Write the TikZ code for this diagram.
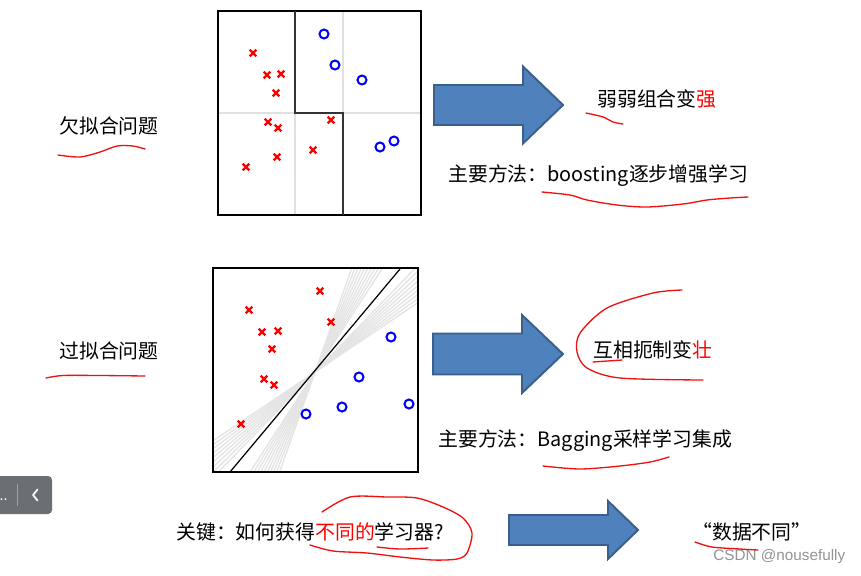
\documentclass[tikz,border=0pt]{standalone}
\usepackage{fontspec}
\setmainfont{Noto Sans CJK SC}
\newfontfamily\wmfont{Liberation Sans}
\definecolor{arrowblue}{HTML}{4F81BD}
\definecolor{arrowedge}{HTML}{3A5F8B}
\definecolor{penred}{HTML}{F01010}
\definecolor{ptred}{HTML}{FF0000}
\definecolor{ptblue}{HTML}{0000FF}
\definecolor{gridgrey}{HTML}{E0E0E0}
\definecolor{fangrey}{HTML}{E4E4E4}
\definecolor{widgetgrey}{HTML}{6B6F72}
\def\xmark(#1,#2){\draw[line width=1.25pt, color=ptred] (#1,#2) ++(-3.3,-3.3) -- ++(6.6,6.6) ++(0,-6.6) -- ++(-6.6,6.6);}
\def\omark(#1,#2){\draw[line width=1.15pt, color=ptblue] (#1,#2) circle (0.09cm);}
\def\blockarrow(#1,#2,#3)(#4:#5:#6){\draw[line width=1.1pt, color=arrowedge, fill=arrowblue] (#1,{#4-#5}) -- (#2,{#4-#5}) -- (#2,{#4-#6}) -- (#3,#4) -- (#2,{#4+#6}) -- (#2,{#4+#5}) -- (#1,{#4+#5}) -- cycle;}

\begin{document}
\begin{tikzpicture}[x=0.02cm, y=-0.02cm,
	txt/.style={anchor=west, inner sep=0pt, font=\fontsize{11.3}{13}\selectfont},
	pen/.style={color=penred, line width=0.75pt, line cap=round, line join=round}]
			%%%%% START %%%%%
			\useasboundingbox (0,0) rectangle (861,575);
			\fill[white] (0,0) rectangle (861,575);
			
			% under-fitting panel
			\draw[line width=0.9pt, color=gridgrey] (295,11) -- (295,215);
			\draw[line width=0.9pt, color=gridgrey] (343,11) -- (343,215);
			\draw[line width=0.9pt, color=gridgrey] (218,113) -- (421,113);
			\draw[line width=0.6pt] (218,11) rectangle (421,215);
			\draw[line width=1.1pt, color=black!80] (295,11) -- (295,113) -- (343,113) -- (343,215);
			
			\xmark(253,53) \xmark(267,75) \xmark(281,74) \xmark(276,93) \xmark(268,122)
			\xmark(278,128) \xmark(331,120) \xmark(313,150) \xmark(277,157) \xmark(246,167)
			\omark(324,34) \omark(335,65) \omark(362,80) \omark(380,147) \omark(394,141)
			
			% over-fitting panel
			\begin{scope}
				\clip (213,268) rectangle (418,472);
				\foreach \a in {34,35.5,37,38.5,40,41.5,43,44.5,46,57,58.5,60,61.5,63,64.5,66,67.5,69,70.5}
					\draw[line width=0.75pt, color=fangrey] (315,372) ++({180-\a}:300) -- ++(-\a:600);
			\end{scope}
			\draw[line width=0.7pt] (230,472) -- (400,269);
			\draw[line width=0.6pt] (213,268) rectangle (418,472);
			
			\xmark(249,310) \xmark(320,291) \xmark(331,322) \xmark(262,332) \xmark(278,331)
			\xmark(272,349) \xmark(264,379) \xmark(274,385) \xmark(241,424)
			\omark(391,337) \omark(359,377) \omark(342,407) \omark(306,414) \omark(409,404)
			
			% block arrows
			\blockarrow(434,523,563)(105:20:38.5)
			\blockarrow(433,522,563)(354:20.5:39)
			\blockarrow(509,608,638)(530:15:29)
			
			% texts
			\node[txt] (ufit) at (59,126) {欠拟合问题};
			\node[txt] (ofit) at (59,351) {过拟合问题};
			\node[txt] (weak) at (597,99) {弱弱组合变{\color{ptred}强}};
			\node[txt] (boost) at (448,176) {主要方法：boosting逐步增强学习};
			\node[txt] (mutual) at (593,350) {互相扼制变{\color{ptred}壮}};
			\node[txt] (bagging) at (438,441) {主要方法：Bagging采样学习集成};
			\node[txt] (key) at (176,532) {关键：如何获得{\color{ptred}不同的}学习器?};
			\node[txt] (diff) at (692,532) {“数据不同”};
			\node[anchor=west, inner sep=0pt, color=black!42, font=\wmfont\fontsize{8.7}{10}\selectfont] (wmark) at (713,557) {CSDN @nousefully};
			
			% pen marks
			\draw[pen] plot[smooth] coordinates {(58,155) (80,157) (100,152) (117,146) (133,146) (145,149)};
			\draw[pen] plot[smooth] coordinates {(46,378) (63,375.5) (100,375.5) (145,376)};
			\draw[pen] plot[smooth] coordinates {(586,113) (603,117) (613,122) (623,124)};
			\draw[pen] plot[smooth] coordinates {(542,192) (570,195) (587,200) (617,205) (647,207) (683,204) (707,200) (730,198) (748,197)};
			\draw[pen] plot[smooth] coordinates {(682,290) (653,293) (607,308) (580,333) (577,352) (587,368) (620,378) (703,380)};
			\draw[pen] (593,362) -- (622,360);
			\draw[pen] plot[smooth] coordinates {(543,466) (580,469) (620,466) (650,462) (669,457)};
			\draw[pen] plot[smooth] coordinates {(322,512) (350,497) (387,497) (417,498) (443,507) (463,518) (472,533) (467,553) (457,559) (433,560) (400,557) (367,553) (333,551) (310,545)};
			\draw[pen] plot[smooth] coordinates {(377,547) (400,549) (428,548)};
			\draw[pen] plot[smooth] coordinates {(695,542) (712,547) (740,549) (758,550)};
			
			% side widget
			\fill[widgetgrey, rounded corners=0.08cm] (-8,476) rectangle (52,514);
			\draw[line width=0.5pt, color=white!35!widgetgrey] (17.5,484) -- (17.5,506);
			\draw[white, line width=1pt, line cap=round, line join=round] (37.5,489.5) -- (33,495) -- (37.5,500.5);
			\fill[white] (1.5,499) circle (0.02cm) (5.5,499) circle (0.02cm);
			%%%%% END %%%%%
\end{tikzpicture}
\end{document}
